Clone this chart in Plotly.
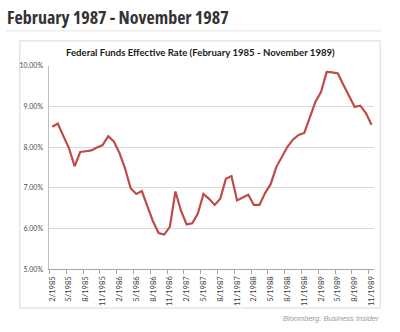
import plotly.graph_objects as go

# Monthly labels, February 1985 through November 1989
months = []
for year in range(1985, 1990):
    for m in range(1, 13):
        if (year == 1985 and m < 2) or (year == 1989 and m > 11):
            continue
        months.append(f"{m}/{year}")

# Federal funds effective rate, percent
rate = [
    8.50, 8.58, 8.27, 7.97, 7.53, 7.88, 7.90, 7.92, 7.99, 8.05, 8.27,
    8.14, 7.86, 7.48, 6.99, 6.85, 6.92, 6.56, 6.17, 5.89, 5.85, 6.04, 6.91,
    6.43, 6.10, 6.13, 6.37, 6.85, 6.73, 6.58, 6.73, 7.22, 7.29, 6.69, 6.77,
    6.83, 6.58, 6.58, 6.87, 7.09, 7.51, 7.75, 8.01, 8.19, 8.30, 8.35, 8.76,
    9.12, 9.36, 9.85, 9.84, 9.81, 9.53, 9.24, 8.99, 9.02, 8.84, 8.55,
]

y_ticks = [5, 6, 7, 8, 9, 10]

W, H = 400, 332

def px(x):
    return x / W

def py(y):
    return 1 - y / H

fig = go.Figure()
fig.add_trace(go.Scatter(
    x=months, y=rate, mode="lines",
    line=dict(color="#BE4B48", width=2.2),
    hoverinfo="x+y",
))

fig.update_layout(
    width=W, height=H,
    margin=dict(l=0, r=0, t=0, b=0),
    paper_bgcolor="white",
    plot_bgcolor="white",
    showlegend=False,
    xaxis=dict(
        domain=[px(47), px(376)],
        type="category",
        categoryorder="array", categoryarray=months,
        range=[-0.5, len(months) - 0.5],
        dtick=3,
        tickson="boundaries",
        ticks="outside", ticklen=4, tickcolor="#A6A6A6",
        tickangle=-90,
        ticklabelstandoff=3,
        tickfont=dict(family="Lato", size=7.6, color="#404040"),
        showgrid=False,
        showline=True, linecolor="#A6A6A6", linewidth=1,
        zeroline=False,
        fixedrange=True,
    ),
    yaxis=dict(
        domain=[py(270.7), py(62.3)],
        range=[5, 10],
        tickvals=y_ticks,
        ticktext=[f"{v:.2f}%" for v in y_ticks],
        ticks="", ticklabelstandoff=4,
        tickfont=dict(family="Lato", size=7, color="#4A4A4A"),
        showgrid=True, gridcolor="#D9D9D9", gridwidth=1,
        showline=True, linecolor="#BFBFBF", linewidth=1,
        zeroline=False,
        fixedrange=True,
    ),
    shapes=[
        # rule under the heading
        dict(type="line", xref="paper", yref="paper",
             x0=px(3), x1=px(383), y0=py(26.5), y1=py(26.5),
             line=dict(color="#E3E3E3", width=1)),
        # chart frame
        dict(type="rect", xref="paper", yref="paper",
             x0=px(17), x1=px(382), y0=py(310.5), y1=py(36.8),
             line=dict(color="#D9D9D9", width=1), layer="below"),
    ],
    annotations=[
        dict(text="<span style=\"font-stretch:75%\"><b>February 1987 - November 1987</b></span>",
             xref="paper", yref="paper", x=px(2), y=py(12),
             xanchor="left", yanchor="middle", showarrow=False,
             font=dict(family="Open Sans", size=18, color="#333333")),
        dict(text="<b>Federal Funds Effective Rate (February 1985 - November 1989)</b>",
             xref="paper", yref="paper", x=px(200), y=py(49),
             xanchor="center", yanchor="middle", showarrow=False,
             font=dict(family="Lato", size=9.6, color="#1A1A1A")),
        dict(text="<i>Bloomberg, Business Insider</i>",
             xref="paper", yref="paper", x=px(383), y=py(321),
             xanchor="right", yanchor="middle", showarrow=False,
             font=dict(family="Liberation Sans", size=7.5, color="#9A9A9A")),
    ],
)

fig.write_html("out.html")
